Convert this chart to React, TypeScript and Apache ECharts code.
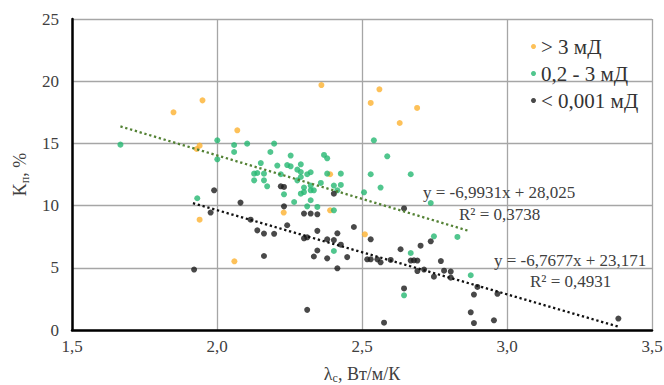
import React, { useEffect, useRef } from "react";
import * as echarts from "echarts";

const SERIES_NAMES = ["> 3 мД", "0,2 - 3 мД", "< 0,001 мД"];

const highPerm: number[][] = [
  [1.85, 17.5], [1.95, 18.46], [1.94, 14.82], [1.93, 14.55], [2.07, 16.05],
  [2.36, 19.69], [2.53, 18.25], [2.56, 19.35], [2.69, 17.85], [2.63, 16.64],
  [2.39, 12.52], [2.23, 9.44], [2.39, 9.62], [1.94, 8.87], [2.06, 5.52], [2.51, 7.69],
];

const midPerm: number[][] = [
  [1.667, 14.9], [1.932, 10.59], [2.001, 15.25], [2.001, 13.72], [2.059, 14.87],
  [2.059, 14.31], [2.104, 14.98], [2.197, 14.98], [2.184, 14.31], [2.151, 13.42],
  [2.128, 12.57], [2.139, 12.62], [2.162, 12.57], [2.128, 12.03], [2.162, 12.03],
  [2.173, 11.55], [2.208, 13.22], [2.22, 12.52], [2.231, 10.91], [2.254, 14.02],
  [2.242, 13.26], [2.254, 13.16], [2.266, 10.29], [2.289, 13.32], [2.277, 12.89],
  [2.289, 12.7], [2.311, 12.52], [2.323, 12.68], [2.277, 12.03], [2.289, 12.3],
  [2.3, 11.45], [2.289, 10.96], [2.3, 11.09], [2.323, 11.23], [2.323, 11.61],
  [2.334, 11.23], [2.358, 11.82], [2.369, 14.07], [2.38, 13.8], [2.38, 12.57],
  [2.427, 12.57], [2.403, 11.61], [2.427, 11.66], [2.415, 11.23], [2.507, 11.07],
  [2.53, 12.52], [2.541, 15.25], [2.564, 11.45], [2.587, 13.96], [2.323, 10.43],
  [2.311, 9.94], [2.346, 9.89], [2.403, 9.62], [2.403, 6.35], [2.645, 2.79],
  [2.668, 12.52], [2.737, 10.21], [2.748, 7.53], [2.829, 7.48], [2.875, 4.4],
  [2.668, 6.19],
];

const lowPerm: number[][] = [
  [1.921, 4.86], [1.978, 9.44], [1.99, 11.23], [2.081, 10.24], [2.116, 8.87],
  [2.139, 8.01], [2.162, 7.75], [2.197, 7.73], [2.242, 8.42], [2.162, 5.95],
  [2.22, 11.55], [2.231, 11.5], [2.231, 9.94], [2.3, 9.36], [2.323, 9.36],
  [2.346, 9.3], [2.403, 10.96], [2.346, 7.97], [2.472, 8.28], [2.645, 9.77],
  [2.3, 7.37], [2.311, 7.45], [2.38, 7.29], [2.403, 7.23], [2.415, 7.77],
  [2.427, 6.86], [2.346, 6.39], [2.334, 5.91], [2.38, 5.76], [2.449, 5.86],
  [2.415, 4.96], [2.53, 7.29], [2.518, 5.68], [2.53, 5.68], [2.553, 5.68],
  [2.564, 5.44], [2.599, 5.63], [2.633, 6.49], [2.645, 3.34], [2.668, 5.58],
  [2.679, 5.6], [2.691, 5.58], [2.691, 4.74], [2.714, 4.86], [2.702, 6.78],
  [2.737, 7.13], [2.772, 5.54], [2.748, 4.29], [2.783, 4.77], [2.806, 4.7],
  [2.806, 4.21], [2.898, 3.46], [2.886, 2.85], [2.967, 2.91], [2.875, 1.42],
  [2.886, 0.56], [2.955, 0.78], [3.384, 0.92], [2.311, 1.62], [2.576, 0.59],
];

// Trend lines (from the equations shown on the chart)
const midTrend = { slope: -6.9931, intercept: 28.025, from: 1.667, to: 2.866 };
const lowTrend = { slope: -6.7677, intercept: 23.171, from: 1.917, to: 3.383 };

const eqTexts = [
  "y = -6,9931x + 28,025",
  "R² = 0,3738",
  "y = -6,7677x + 23,171",
  "R² = 0,4931",
];

const X_TICKS = { min: 1.5, max: 3.5, interval: 0.5 };
const Y_TICKS = { min: 0, max: 25, interval: 5 };

const COLORS = ["#FDB12F", "#25B872", "#1C1C1C"];
const FONT = "Liberation Serif";

function trendPoints(t: { slope: number; intercept: number; from: number; to: number }) {
  return [
    [t.from, t.slope * t.from + t.intercept],
    [t.to, t.slope * t.to + t.intercept],
  ];
}

export default function App() {
  const ref = useRef<HTMLDivElement>(null);
  useEffect(() => {
    if (!ref.current) return;
    const chart = echarts.init(ref.current, undefined, { renderer: "svg", width: 664, height: 385 });
    const textColor = "#404040";
    const eqStyle = (text: string, x: number, y: number) => ({
      type: "text",
      x,
      y,
      z: 100,
      style: {
        text,
        fill: textColor,
        fontFamily: FONT,
        fontSize: 17,
        align: "left",
        verticalAlign: "middle",
      },
    });
    chart.setOption({
      animation: false,
      backgroundColor: "#fff",
      grid: {
        left: 72,
        right: 12,
        top: 19,
        bottom: 55,
        containLabel: false,
        outerBoundsMode: "none",
      },
      legend: {
        data: SERIES_NAMES,
        orient: "vertical",
        left: 526,
        top: 31,
        icon: "circle",
        itemWidth: 5,
        itemHeight: 5,
        itemGap: 6,
        textStyle: { fontFamily: FONT, fontSize: 21, color: "#333", lineHeight: 21 },
      },
      xAxis: {
        type: "value",
        min: X_TICKS.min,
        max: X_TICKS.max,
        interval: X_TICKS.interval,
        name: "λ{sub|с}, Вт/м/К",
        nameLocation: "middle",
        nameGap: 34,
        nameTextStyle: {
          fontFamily: FONT,
          fontSize: 18,
          color: textColor,
          rich: { sub: { fontFamily: FONT, fontSize: 12, color: textColor, padding: [8, 0, 0, 0] } },
        },
        axisLine: { show: true, onZero: false, lineStyle: { color: "#000", width: 2.5 } },
        axisTick: { show: false },
        axisLabel: {
          fontFamily: FONT,
          fontSize: 17,
          color: textColor,
          margin: 8,
          formatter: (v: number) => v.toFixed(1).replace(".", ","),
        },
        splitLine: { show: true, lineStyle: { color: "#A6A6A6", width: 1.3 } },
      },
      yAxis: {
        type: "value",
        min: Y_TICKS.min,
        max: Y_TICKS.max,
        interval: Y_TICKS.interval,
        name: "K{sub|п}, %",
        nameLocation: "middle",
        nameRotate: 90,
        nameGap: 40,
        nameTextStyle: {
          fontFamily: FONT,
          fontSize: 18,
          color: textColor,
          rich: { sub: { fontFamily: FONT, fontSize: 12, color: textColor, padding: [10, 0, 0, 0] } },
        },
        axisLine: { show: true, onZero: false, lineStyle: { color: "#000", width: 2.5 } },
        axisTick: { show: false },
        axisLabel: { fontFamily: FONT, fontSize: 17, color: textColor, margin: 13 },
        splitLine: { show: true, lineStyle: { color: "#A6A6A6", width: 1.3 } },
      },
      series: [
        { name: SERIES_NAMES[0], type: "scatter", data: highPerm, symbolSize: 6, itemStyle: { color: COLORS[0] } },
        { name: SERIES_NAMES[1], type: "scatter", data: midPerm, symbolSize: 6, itemStyle: { color: COLORS[1] } },
        { name: SERIES_NAMES[2], type: "scatter", data: lowPerm, symbolSize: 6, itemStyle: { color: COLORS[2] } },
        {
          name: "trend-mid",
          type: "line",
          data: trendPoints(midTrend),
          showSymbol: false,
          symbol: "none",
          silent: true,
          lineStyle: { color: "#548235", width: 2.3, type: [2.3, 2.7] },
          z: 5,
        },
        {
          name: "trend-low",
          type: "line",
          data: trendPoints(lowTrend),
          showSymbol: false,
          symbol: "none",
          silent: true,
          lineStyle: { color: "#111", width: 2.3, type: [2.3, 2.7] },
          z: 5,
        },
      ],
      graphic: [
        eqStyle(eqTexts[0], 423, 192),
        eqStyle(eqTexts[1], 459, 214),
        eqStyle(eqTexts[2], 494, 260),
        eqStyle(eqTexts[3], 530, 281),
      ],
    });
    return () => chart.dispose();
  }, []);
  return (
    <div
      ref={ref}
      style={{ position: "fixed", left: 0, top: 0, width: 664, height: 385 }}
    />
  );
}
